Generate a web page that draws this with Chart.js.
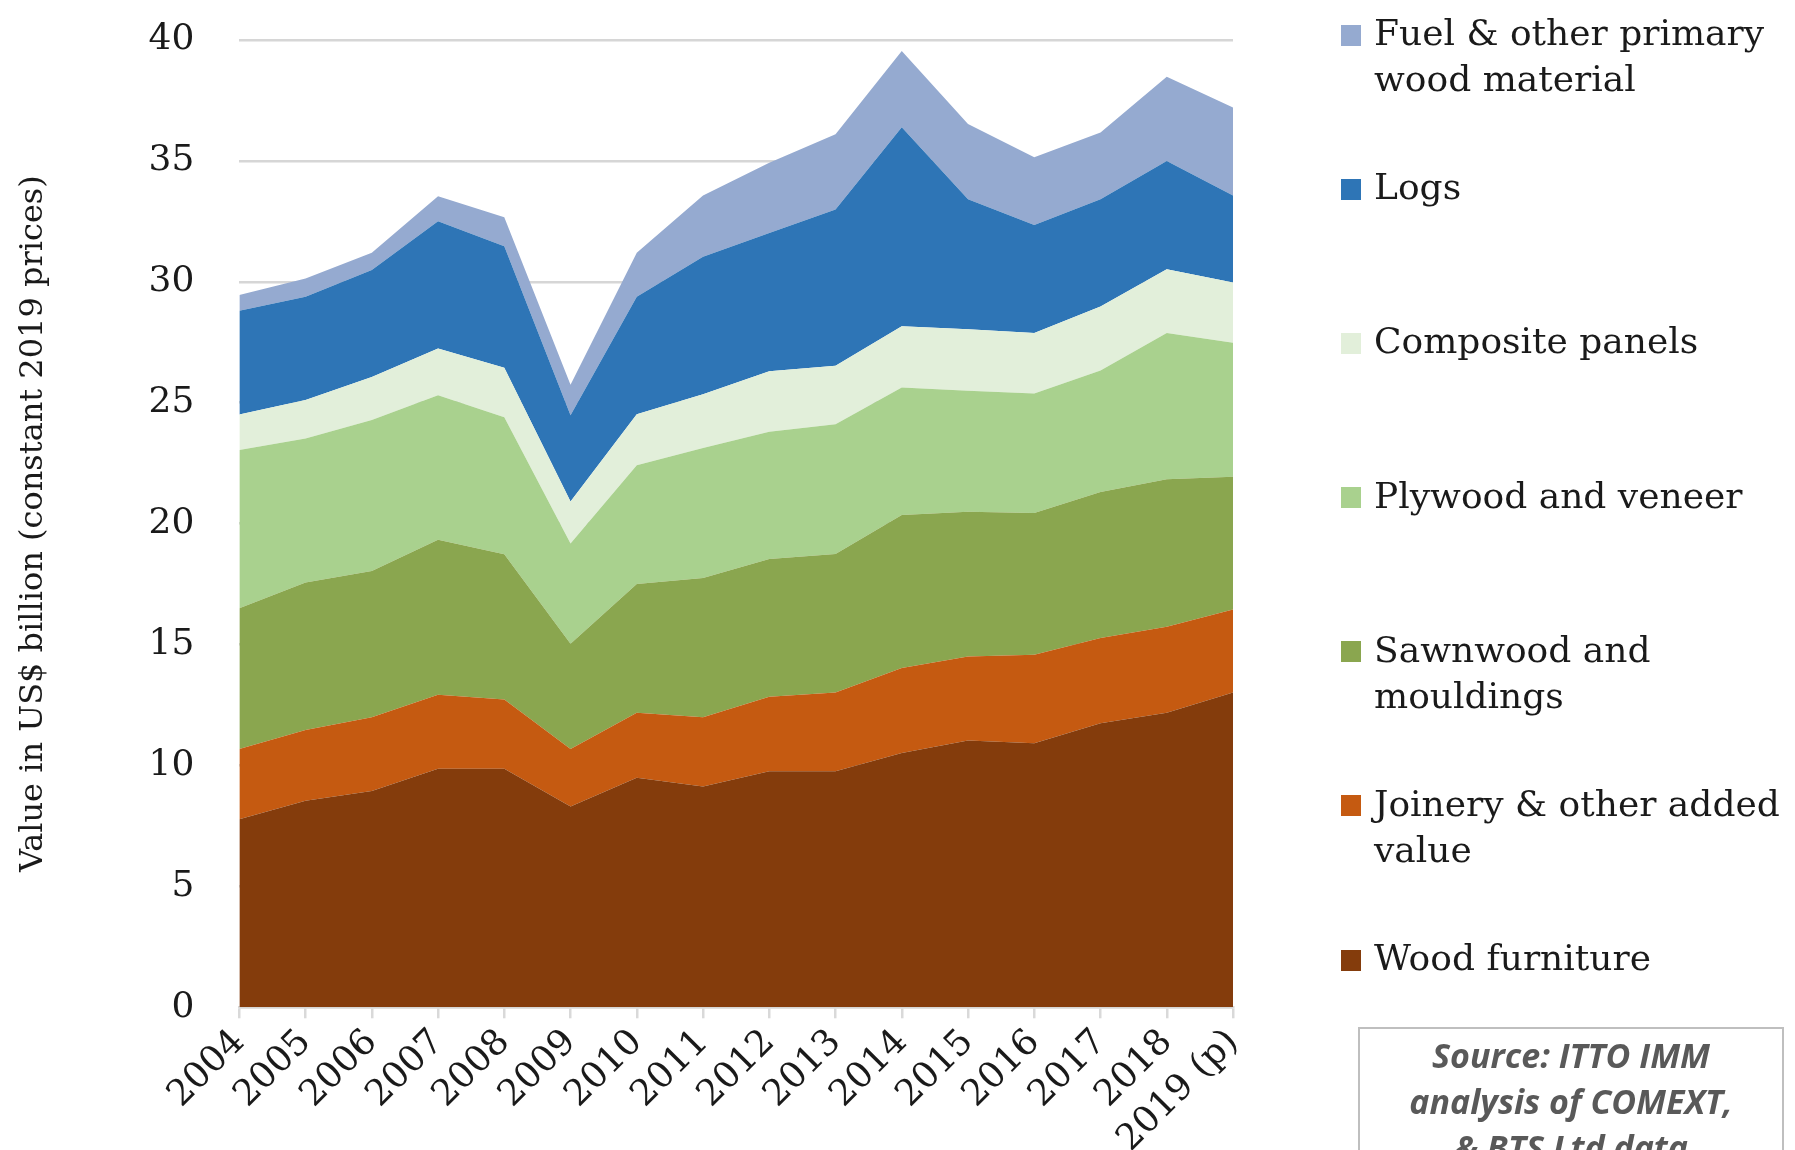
<!DOCTYPE html>
<html>
<head>
<meta charset="utf-8">
<script src="https://cdn.jsdelivr.net/npm/chart.js@4.4.1/dist/chart.umd.min.js"></script>
<style>
  html, body { margin: 0; padding: 0; background: #fff; }
  #wrap { position: relative; width: 1795px; height: 1150px; overflow: hidden; }
  #chart { position: absolute; left: 0; top: 0; }
  #legend { position: absolute; left: 1341px; top: 10px; font-family: "DejaVu Serif"; font-size: 36px; color: #1a1a1a; }
  .item { height: 154.2px; display: flex; align-items: flex-start; }
  .box { width: 20px; height: 21px; margin-top: 14.5px; margin-right: 13px; flex: none; }
  .label { width: 420px; line-height: 46px; }
  #source { position: absolute; left: 1358px; top: 1027px; width: 426px; height: 200px; border: 2px solid #bfbfbf; box-sizing: border-box;
    font-family: "Open Sans"; font-style: italic; font-weight: 700; font-size: 34px; line-height: 46px; color: #595959; text-align: center; padding-top: 3px; }
</style>
</head>
<body>
<div id="wrap">
  <canvas id="chart" width="1795" height="1150"></canvas>
  <div id="legend"></div>
  <div id="source">Source: ITTO IMM<br>analysis of COMEXT,<br>&amp; BTS Ltd data</div>
</div>
<script>
// years on the x axis
const years = ['2004', '2005', '2006', '2007', '2008', '2009', '2010', '2011',
               '2012', '2013', '2014', '2015', '2016', '2017', '2018', '2019 (p)'];

// values in US$ billion (bottom to top)
const woodFurniture = [7.78, 8.54, 8.94, 9.86, 9.86, 8.30, 9.49, 9.13, 9.76, 9.76, 10.52, 11.03, 10.92, 11.75, 12.18, 13.02];
const joinery       = [2.90, 2.93, 3.05, 3.06, 2.87, 2.38, 2.69, 2.86, 3.08, 3.26, 3.51, 3.48, 3.66, 3.52, 3.56, 3.43];
const sawnwood      = [5.82, 6.10, 6.05, 6.41, 6.00, 4.35, 5.32, 5.76, 5.70, 5.73, 6.33, 5.98, 5.86, 6.04, 6.10, 5.49];
const plywood       = [6.55, 5.95, 6.25, 5.98, 5.67, 4.15, 4.92, 5.38, 5.26, 5.36, 5.27, 5.01, 4.94, 5.02, 6.04, 5.54];
const composite     = [1.46, 1.59, 1.77, 1.93, 2.05, 1.74, 2.10, 2.22, 2.50, 2.42, 2.53, 2.54, 2.50, 2.65, 2.64, 2.49];
const logs          = [4.29, 4.27, 4.43, 5.27, 5.02, 3.56, 4.86, 5.69, 5.72, 6.46, 8.23, 5.37, 4.47, 4.43, 4.48, 3.60];
const fuel          = [0.66, 0.76, 0.71, 1.03, 1.20, 1.26, 1.82, 2.53, 2.90, 3.11, 3.15, 3.12, 2.80, 2.77, 3.48, 3.64];

const seriesNames = ['Wood furniture', 'Joinery & other added value', 'Sawnwood and mouldings',
                     'Plywood and veneer', 'Composite panels', 'Logs', 'Fuel & other primary wood material'];
const seriesData = [woodFurniture, joinery, sawnwood, plywood, composite, logs, fuel];
const colors = ['#843c0c', '#c55a11', '#8aa64f', '#a9d18e', '#e2efda', '#2e75b6', '#95aad0'];

const datasets = seriesNames.map((name, i) => ({
    label: name,
    data: seriesData[i],
    backgroundColor: colors[i],
    borderColor: colors[i],
    borderWidth: 0,
    pointRadius: 0,
    tension: 0,
    fill: i === 0 ? 'origin' : '-1'
}));

const serif = 'DejaVu Serif';

const chart = new Chart(document.getElementById('chart').getContext('2d'), {
    type: 'line',
    data: { labels: years, datasets: datasets },
    options: {
        responsive: false,
        animation: false,
        layout: { padding: { left: 0, right: 562, top: 40, bottom: 0 } },
        plugins: { legend: { display: false }, tooltip: { enabled: false } },
        scales: {
            x: {
                offset: false,
                afterFit: s => { s.height = 142.7; },
                grid: { drawOnChartArea: false, drawTicks: true, tickLength: 11, color: '#d9d9d9', lineWidth: 2.5 },
                border: { color: '#d9d9d9', width: 2.5 },
                ticks: { autoSkip: false, maxRotation: 45, minRotation: 45, padding: 3,
                         color: '#1a1a1a', font: { family: serif, size: 36 } }
            },
            y: {
                stacked: true,
                min: 0,
                max: 40,
                afterFit: s => { s.width = 239.3; },
                // invisible tick marks keep the labels away from the plot
                grid: { color: '#d6d6d6', lineWidth: 2.5, drawTicks: true, tickLength: 37, tickColor: 'rgba(0,0,0,0)' },
                border: { display: false },
                ticks: { stepSize: 5, padding: 8, color: '#1a1a1a', font: { family: serif, size: 36 } },
                title: { display: true, text: 'Value in US$ billion (constant 2019 prices)',
                         color: '#1a1a1a', font: { family: serif, size: 32 }, padding: { top: 14, bottom: 0 } }
            }
        }
    }
});

// legend on the right, top series first
const legend = document.getElementById('legend');
chart.data.datasets.slice().reverse().forEach(ds => {
    const item = document.createElement('div');
    item.className = 'item';
    const box = document.createElement('div');
    box.className = 'box';
    box.style.background = ds.backgroundColor;
    const label = document.createElement('div');
    label.className = 'label';
    label.textContent = ds.label;
    item.appendChild(box);
    item.appendChild(label);
    legend.appendChild(item);
});
</script>
</body>
</html>
